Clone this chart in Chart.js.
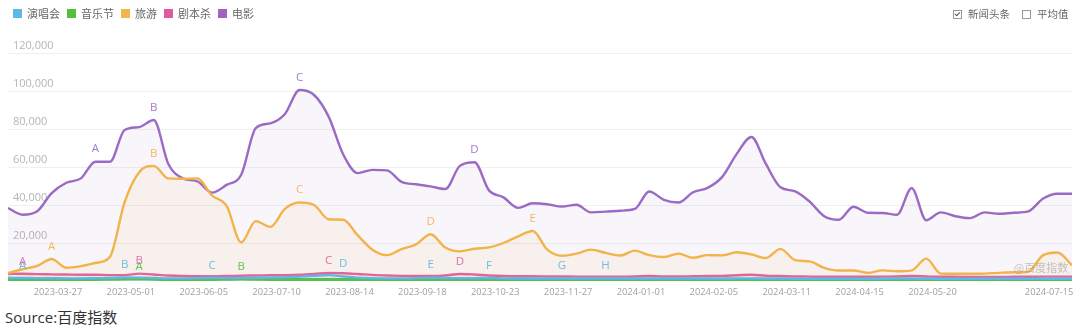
<!DOCTYPE html>
<html>
<head>
<meta charset="utf-8">
<script src="https://cdn.jsdelivr.net/npm/chart.js@4.4.1/dist/chart.umd.min.js"></script>
<style>
  html, body { margin: 0; padding: 0; background: #fff; }
  #wrap { position: relative; width: 1080px; height: 329px; overflow: hidden;
          font-family: "Noto Sans CJK SC", "Open Sans", sans-serif; }
  #legend { position: absolute; left: 13px; top: 5px; display: flex; gap: 7px;
            font-size: 11px; color: #666; line-height: 16px; }
  #legend .item { display: flex; align-items: center; }
  #legend .sw { width: 9px; height: 9px; margin-right: 5px; }
  #toggles { position: absolute; left: 953px; top: 6px; display: flex; gap: 12px;
             font-size: 10.5px; color: #666; line-height: 16px; }
  #toggles .item { display: flex; align-items: center; }
  #toggles .cb { position: relative; width: 7px; height: 7px; border: 1px solid #999;
                 margin-right: 6px; background: #fff; }
  #toggles .cb.on::after { content: ""; position: absolute; left: 2px; top: 0px; width: 2px; height: 4px;
                           border: solid #555; border-width: 0 1.2px 1.2px 0; transform: rotate(45deg); }
  #box { position: absolute; left: 0; top: 0; width: 1080px; height: 301px; }
  #source { position: absolute; left: 5px; top: 307px; font-size: 15px; color: #333;
            font-family: "Open Sans", "Noto Sans CJK SC", sans-serif; line-height: 20px; }
</style>
</head>
<body>
<div id="wrap">
  <div id="box"><canvas id="chart"></canvas></div>
  <div id="legend"></div>
  <div id="toggles">
    <div class="item"><span class="cb on"></span>新闻头条</div>
    <div class="item"><span class="cb"></span>平均值</div>
  </div>
  <div id="source">Source:百度指数</div>
</div>
<script>
// Weekly sample dates (Baidu index, weekly resolution)
const weeks = [
  '2023-03-03','2023-03-10','2023-03-17','2023-03-24','2023-03-31','2023-04-07','2023-04-14','2023-04-21',
  '2023-04-28','2023-05-05','2023-05-12','2023-05-19','2023-05-26','2023-06-02','2023-06-09','2023-06-16',
  '2023-06-23','2023-06-30','2023-07-07','2023-07-14','2023-07-21','2023-07-28','2023-08-04','2023-08-11',
  '2023-08-18','2023-08-25','2023-09-01','2023-09-08','2023-09-15','2023-09-22','2023-09-29','2023-10-06',
  '2023-10-13','2023-10-20','2023-10-27','2023-11-03','2023-11-10','2023-11-17','2023-11-24','2023-12-01',
  '2023-12-08','2023-12-15','2023-12-22','2023-12-29','2024-01-05','2024-01-12','2024-01-19','2024-01-26',
  '2024-02-02','2024-02-09','2024-02-16','2024-02-23','2024-03-01','2024-03-08','2024-03-15','2024-03-22',
  '2024-03-29','2024-04-05','2024-04-12','2024-04-19','2024-04-26','2024-05-03','2024-05-10','2024-05-17',
  '2024-05-24','2024-05-31','2024-06-07','2024-06-14','2024-06-21','2024-06-28','2024-07-05','2024-07-12',
  '2024-07-19','2024-07-26'
];

// 演唱会
const concert = [
  1700,1600,1500,1500,1400,1400,1500,1600,1900,1800,1600,1400,1400,1500,1700,1600,
  1600,1700,1800,2000,2300,2700,3100,2400,1800,1500,1400,1400,1500,1800,1600,1500,
  1500,1600,1400,1300,1300,1300,1400,1300,1300,1400,1300,1300,1300,1300,1300,1300,
  1300,1300,1400,1400,1300,1300,1200,1200,1200,1200,1200,1200,1200,1300,1300,1200,
  1200,1200,1200,1200,1200,1200,1200,1200,1200,1200
];
// 音乐节
const musicFest = [
  800,800,800,800,800,800,800,900,1000,1100,900,800,800,800,800,900,
  1000,900,800,800,800,800,800,800,800,800,700,700,700,700,700,700,
  700,700,700,700,700,700,700,700,700,700,700,700,700,700,700,700,
  700,700,700,700,700,700,700,700,700,700,700,800,800,800,800,800,
  700,700,700,700,700,700,700,700,700,700
];
// 旅游
const travel = [
  4200,6200,8000,11600,7000,7800,9500,12800,41500,57300,60600,54000,53800,54000,45000,39500,
  20300,31500,28500,38000,41300,40000,32500,32200,24000,16500,13600,16800,19300,24600,17600,15600,
  17000,17700,20000,23500,26300,16500,13300,14400,16500,14800,13400,16000,13600,12600,14400,12200,
  13600,13500,15100,14000,12100,16900,11000,10300,6900,5500,5500,4300,5600,5100,5600,11800,
  3900,3800,3800,3900,4300,4600,4900,13500,15000,8300
];
// 剧本杀
const scriptGame = [
  3800,3800,3600,3500,3400,3300,3300,3100,3100,3900,3400,2900,2600,2500,2500,2600,
  2800,2900,3000,3100,3300,3700,4200,4100,3700,3200,2900,2700,2600,2600,2900,3700,
  3400,2900,2600,2500,2500,2400,2400,2300,2300,2300,2300,2400,2600,2400,2400,2500,
  2600,2700,3000,3300,2800,2600,2400,2300,2200,2200,2200,2200,2300,2400,2600,2400,
  2200,2200,2100,2100,2100,2200,2200,2300,2300,2300
];
// 电影
const movie = [
  38400,34900,36700,46300,51700,54000,62800,62800,79500,81000,84700,61600,54000,52400,46500,50600,
  55900,80500,83000,87900,100500,97900,86500,66600,56800,58500,58200,52200,50900,49800,48400,60600,
  62500,47700,44000,38500,40900,40400,39200,40100,36100,36500,37000,37900,47100,42700,41300,46700,
  49000,54800,66900,75800,61600,49300,47200,41800,34100,32200,39100,35900,35800,34900,48900,32000,
  36100,34100,33100,36100,35400,35900,36600,43300,45900,45900
];

const seriesNames  = ['演唱会', '音乐节', '旅游', '剧本杀', '电影'];
const seriesValues = [concert, musicFest, travel, scriptGame, movie];
const seriesColors = ['#5db8e6', '#55c044', '#f2b44a', '#e0609e', '#9b6bc3'];
const legendColors = ['#5cb8e8', '#52c03f', '#f5b54c', '#de5d9e', '#a064be'];

// Date labels shown along the bottom axis
const axisDates = ['2023-03-27','2023-05-01','2023-06-05','2023-07-10','2023-08-14','2023-09-18','2023-10-23',
  '2023-11-27','2024-01-01','2024-02-05','2024-03-11','2024-04-15','2024-05-20','2024-07-15'];

// Value-axis tick values
const valueTicks = [0, 20000, 40000, 60000, 80000, 100000, 120000];

// News-headline markers: series, week, letter
const markers = [
  ['电影', '2023-04-14', 'A'], ['电影', '2023-05-12', 'B'], ['电影', '2023-07-21', 'C'], ['电影', '2023-10-13', 'D'],
  ['旅游', '2023-03-24', 'A'], ['旅游', '2023-05-12', 'B'], ['旅游', '2023-07-21', 'C'], ['旅游', '2023-09-22', 'D'], ['旅游', '2023-11-10', 'E'],
  ['剧本杀', '2023-03-10', 'A'], ['剧本杀', '2023-05-05', 'B'], ['剧本杀', '2023-08-04', 'C'], ['剧本杀', '2023-10-06', 'D'],
  ['演唱会', '2023-03-10', 'A'], ['演唱会', '2023-04-28', 'B'], ['演唱会', '2023-06-09', 'C'], ['演唱会', '2023-08-11', 'D'],
  ['演唱会', '2023-09-22', 'E'], ['演唱会', '2023-10-20', 'F'], ['演唱会', '2023-11-24', 'G'], ['演唱会', '2023-12-15', 'H'],
  ['音乐节', '2023-05-05', 'A'], ['音乐节', '2023-06-23', 'B']
];

const DAY = 86400000;
const origin = Date.parse(weeks[0] + 'T00:00:00Z');
const dayOf = s => Math.round((Date.parse(s + 'T00:00:00Z') - origin) / DAY);
const xs = weeks.map(dayOf);
const labelByDay = {};
axisDates.forEach(d => { labelByDay[dayOf(d)] = d; });

function rgba(hex, a) {
  const n = parseInt(hex.slice(1), 16);
  return `rgba(${(n >> 16) & 255},${(n >> 8) & 255},${n & 255},${a})`;
}

const datasets = seriesNames.map((name, i) => ({
  label: name,
  data: seriesValues[i].map((v, k) => ({ x: xs[k], y: v })),
  borderColor: seriesColors[i],
  backgroundColor: rgba(seriesColors[i], i === 4 ? 0.07 : 0.08),
  fill: 'origin',
  borderWidth: i === 1 ? 3 : 2.4,
  pointRadius: 0,
  pointHoverRadius: 0,
  cubicInterpolationMode: 'monotone'
}));

// HTML legend
const legendEl = document.getElementById('legend');
seriesNames.forEach((name, i) => {
  const item = document.createElement('div');
  item.className = 'item';
  const sw = document.createElement('span');
  sw.className = 'sw';
  sw.style.background = legendColors[i];
  item.appendChild(sw);
  item.appendChild(document.createTextNode(name));
  legendEl.appendChild(item);
});

// Letters above the lines plus the corner watermark
const markerPlugin = {
  id: 'newsMarkers',
  afterDatasetsDraw(chart) {
    const ctx = chart.ctx;
    ctx.save();
    ctx.font = '11.5px "Open Sans", sans-serif';
    ctx.textAlign = 'center';
    ctx.textBaseline = 'middle';
    markers.forEach(([name, date, letter]) => {
      const di = seriesNames.indexOf(name);
      const idx = weeks.indexOf(date);
      const pt = chart.getDatasetMeta(di).data[idx];
      if (!pt) return;
      ctx.fillStyle = rgba(seriesColors[di], 0.9);
      ctx.fillText(letter, pt.x, pt.y - 12.5);
    });
    ctx.font = '11px "Noto Sans CJK SC", sans-serif';
    ctx.fillStyle = 'rgba(150,150,150,0.55)';
    ctx.fillText('@百度指数', 1041, 268);
    ctx.restore();
  }
};

new Chart(document.getElementById('chart'), {
  type: 'line',
  data: { datasets },
  plugins: [markerPlugin],
  options: {
    responsive: true,
    maintainAspectRatio: false,
    animation: false,
    layout: { padding: { left: 8, right: 8, top: 53, bottom: 0 } },
    plugins: { legend: { display: false }, tooltip: { enabled: false } },
    scales: {
      x: {
        type: 'linear',
        min: 0,
        max: xs[xs.length - 1],
        grid: { display: false, drawTicks: false },
        border: { display: false },
        afterBuildTicks: s => { s.ticks = axisDates.map(d => ({ value: dayOf(d) })); },
        afterFit: s => { s.height = 20; },
        ticks: {
          autoSkip: false,
          maxRotation: 0,
          padding: 6,
          color: '#a0a0a0',
          font: { family: '"Open Sans", sans-serif', size: 9.3 },
          callback: v => labelByDay[v] || ''
        }
      },
      y: {
        min: 0,
        max: 120000,
        afterBuildTicks: s => { s.ticks = valueTicks.map(v => ({ value: v })); },
        afterFit: s => { s.width = 0; },
        grid: {
          drawTicks: false,
          color: c => (c.tick && c.tick.value === 0) ? 'rgba(0,0,0,0)' : '#f0f0f0',
          lineWidth: 1
        },
        border: { display: false },
        ticks: {
          mirror: true,
          padding: 5,
          labelOffset: -7,
          color: '#b5b5b5',
          font: { family: '"Open Sans", sans-serif', size: 11 },
          callback: v => v === 0 ? '' : v.toLocaleString('en-US')
        }
      }
    }
  }
});
</script>
</body>
</html>
